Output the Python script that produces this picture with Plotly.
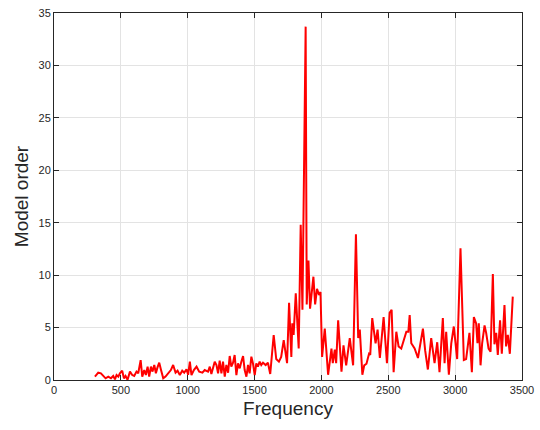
import plotly.graph_objects as go

# Estimated model order per analysis frequency
freq = [
    306, 331, 351, 369, 386, 406, 426, 443, 456, 468, 481, 493, 510, 523, 535, 550,
    568, 585, 600, 617, 630, 648, 660, 675, 687, 700, 712, 725, 737, 750, 762, 774,
    787, 799, 817, 834, 854, 874, 891, 909, 924, 941, 959, 974, 991, 1003, 1016, 1028,
    1046, 1066, 1086, 1110, 1127, 1152, 1165, 1177, 1202, 1215, 1227, 1239, 1252, 1264,
    1277, 1289, 1302, 1314, 1326, 1339, 1351, 1364, 1376, 1389, 1401, 1414, 1426, 1439,
    1451, 1463, 1476, 1488, 1501, 1513, 1525, 1538, 1550, 1563, 1583, 1600, 1617, 1643,
    1662, 1682, 1699, 1718, 1743, 1758, 1775, 1782, 1792, 1808, 1830, 1845, 1858, 1882,
    1890, 1903, 1915, 1940, 1953, 1967, 1982, 1993, 2005, 2025, 2050, 2075, 2085, 2100,
    2110, 2125, 2150, 2165, 2185, 2212, 2237, 2258, 2275, 2287, 2306, 2320, 2337, 2356,
    2365, 2380, 2405, 2420, 2437, 2465, 2490, 2510, 2525, 2540, 2560, 2577, 2597, 2615,
    2635, 2650, 2660, 2672, 2697, 2722, 2759, 2776, 2796, 2821, 2846, 2866, 2883, 2908,
    2921, 2933, 2953, 2971, 2990, 3015, 3040, 3065, 3082, 3107, 3125, 3140, 3157, 3167,
    3177, 3190, 3202, 3220, 3232, 3250, 3265, 3282, 3294, 3307, 3319, 3336, 3349, 3369,
    3381, 3394, 3409, 3431,
]
order = [
    0.32, 0.70, 0.64, 0.38, 0.16, 0.32, 0.16, 0.38, 0.06, 0.48, 0.32, 0.64, 0.89, 0.16, 0.38, 0.02,
    0.80, 0.48, 0.38, 0.80, 0.64, 1.90, 0.32, 0.95, 0.48, 1.27, 0.32, 1.27, 0.80, 1.43, 0.64, 1.20,
    1.65, 1.02, 0.16, 0.32, 0.64, 0.95, 1.43, 0.70, 0.89, 0.48, 0.89, 0.70, 1.02, 0.50, 1.75, 0.47,
    0.95, 1.27, 0.80, 0.70, 0.95, 0.80, 1.27, 0.57, 1.75, 1.43, 0.63, 1.84, 0.63, 1.75,
    0.32, 1.43, 0.70, 2.29, 1.27, 1.65, 2.38, 0.47, 1.59, 1.11, 1.75, 2.29, 0.95, 0.32,
    1.43, 0.63, 2.22, 1.59, 0.47, 1.59, 1.27, 1.75, 1.43, 1.65, 1.43, 1.65, 0.57, 4.29,
    2.00, 1.75, 2.20, 3.80, 1.60, 7.37, 2.20, 5.40, 4.30, 8.26, 3.00, 14.8, 6.70, 33.7,
    7.20, 11.4, 6.80, 9.85, 7.20, 8.70, 8.10, 8.40, 2.20, 4.90, 0.50, 3.00, 1.60, 2.90,
    1.60, 5.70, 0.80, 3.30, 1.40, 4.00, 1.40, 13.9, 4.00, 4.80, 0.50, 1.40, 1.55, 2.50,
    2.40, 5.90, 3.50, 4.80, 2.10, 6.00, 1.60, 6.40, 6.70, 0.75, 4.60, 3.20, 3.00, 3.80,
    4.60, 4.60, 6.20, 3.50, 3.00, 2.10, 4.90, 2.80, 1.00, 4.00, 1.60, 3.60, 0.75, 5.90,
    1.60, 4.60, 0.50, 3.50, 5.10, 2.00, 12.55, 1.90, 2.00, 4.50, 0.75, 6.00, 5.40, 3.50,
    5.40, 1.40, 3.50, 5.20, 4.50, 3.00, 2.70, 10.1, 3.40, 4.50, 2.40, 5.70, 2.50, 7.15,
    3.20, 4.30, 2.50, 7.95,
]

x_ticks = [0, 500, 1000, 1500, 2000, 2500, 3000, 3500]
y_ticks = [0, 5, 10, 15, 20, 25, 30, 35]

fig = go.Figure(
    go.Scatter(
        x=freq,
        y=order,
        mode="lines",
        line=dict(color="#ff0000", width=2),
        showlegend=False,
    )
)

axis_style = dict(
    showgrid=True,
    gridcolor="#e3e3e3",
    gridwidth=1,
    showline=True,
    linecolor="#262626",
    linewidth=1,
    mirror="ticks",
    ticks="inside",
    ticklen=5,
    tickcolor="#262626",
    zeroline=False,
    tickfont=dict(family="Liberation Sans, Arial, sans-serif", size=11, color="#262626"),
    automargin=False,
)

fig.update_xaxes(
    range=[0, 3500],
    tickvals=x_ticks,
    ticktext=[str(v) for v in x_ticks],
    title=dict(text="Frequency", font=dict(family="Liberation Sans, Arial, sans-serif",
                                           size=19, color="#262626"), standoff=6),
    **axis_style,
)
fig.update_yaxes(
    range=[0, 35],
    tickvals=y_ticks,
    ticktext=[str(v) for v in y_ticks],
    title=dict(text="Model order", font=dict(family="Liberation Sans, Arial, sans-serif",
                                             size=19, color="#262626"), standoff=4),
    **axis_style,
)

fig.update_layout(
    width=540,
    height=430,
    margin=dict(l=54, r=18, t=13, b=50),
    paper_bgcolor="white",
    plot_bgcolor="white",
)

fig.write_html("out.html")
